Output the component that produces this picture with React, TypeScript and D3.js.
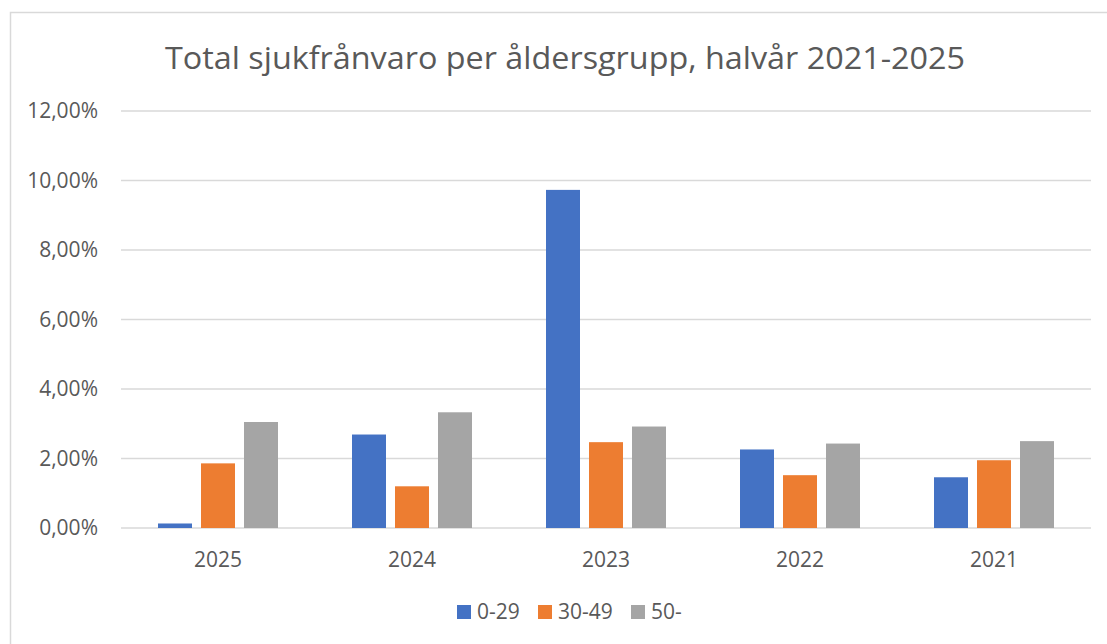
import React from 'react';
import * as d3 from 'd3';

// data (percent)
const years = ['2025', '2024', '2023', '2022', '2021'];
const groups = ['0-29', '30-49', '50-'];
const age0to29 = [0.13, 2.69, 9.73, 2.26, 1.46];
const age30to49 = [1.86, 1.2, 2.47, 1.52, 1.95];
const age50plus = [3.05, 3.33, 2.92, 2.43, 2.5];
const yTicks = [0, 2, 4, 6, 8, 10, 12];
const colors = ['#4472C4', '#ED7D31', '#A5A5A5'];

const title = 'Total sjukfrånvaro per åldersgrupp, halvår 2021-2025';
const font = "'Open Sans', sans-serif";
const textColor = '#595959';

export default function App() {
    const width = 1107, height = 644;
    // plot area
    const margin = {top: 111, right: 16, bottom: 116, left: 121};
    const plotRight = width - margin.right;
    const plotBottom = height - margin.bottom;

    const series = [age0to29, age30to49, age50plus];

    const y = d3.scaleLinear()
        .domain([0, 12])
        .range([plotBottom, margin.top]);

    const x0 = d3.scaleBand()
        .domain(years)
        .range([margin.left, plotRight])
        .padding(0);

    const groupWidth = 120;
    const x1 = d3.scaleBand()
        .domain(groups)
        .range([0, groupWidth])
        .paddingInner(9 / 43)
        .paddingOuter(0);
    const groupOffset = (x0.bandwidth() - groupWidth) / 2;

    const fmt = (v) => d3.format('.2f')(v).replace('.', ',') + '%';

    // legend layout
    const legendItems = [
        {label: groups[0], x: 457},
        {label: groups[1], x: 538},
        {label: groups[2], x: 631},
    ];
    const legendY = 612;

    return (
        <svg width={width} height={height}
             style={{position: 'fixed', left: 0, top: 0, background: '#fff'}}
             fontFamily={font}>
            <rect x={0} y={0} width={width} height={height} fill="#fff"/>
            {/* chart frame */}
            <path d={`M10.5,${height + 2}V12.5H${width + 2}`} fill="none" stroke="#D9D9D9" strokeWidth={1.5}/>

            <text x={565} y={69} textAnchor="middle" fontSize={31} fill={textColor}
                  textLength={800} lengthAdjust="spacingAndGlyphs">{title}</text>

            {/* gridlines */}
            {yTicks.map(t => (
                <line key={'g' + t} x1={margin.left} x2={plotRight} y1={y(t)} y2={y(t)}
                      stroke="#D9D9D9" strokeWidth={1.5}/>
            ))}
            {/* y tick labels */}
            {yTicks.map(t => (
                <text key={'t' + t} x={98} y={y(t)} dy="0.35em" textAnchor="end"
                      fontSize={21} fill={textColor}>{fmt(t)}</text>
            ))}

            {/* bars */}
            {years.map((yr, i) => (
                <g key={yr} transform={`translate(${x0(yr) + groupOffset},0)`}>
                    {groups.map((g, j) => (
                        <rect key={g} x={x1(g)} y={y(series[j][i])}
                              width={x1.bandwidth()} height={y(0) - y(series[j][i])}
                              fill={colors[j]}/>
                    ))}
                </g>
            ))}

            {/* x labels */}
            {years.map(yr => (
                <text key={'x' + yr} x={x0(yr) + x0.bandwidth() / 2} y={567} textAnchor="middle"
                      fontSize={21} fill={textColor}>{yr}</text>
            ))}

            {/* legend */}
            {legendItems.map((it, j) => (
                <g key={it.label}>
                    <rect x={it.x} y={legendY - 7} width={14} height={14} fill={colors[j]}/>
                    <text x={it.x + 20} y={legendY} dy="0.35em" fontSize={21} fill={textColor}>{it.label}</text>
                </g>
            ))}
        </svg>
    );
}
